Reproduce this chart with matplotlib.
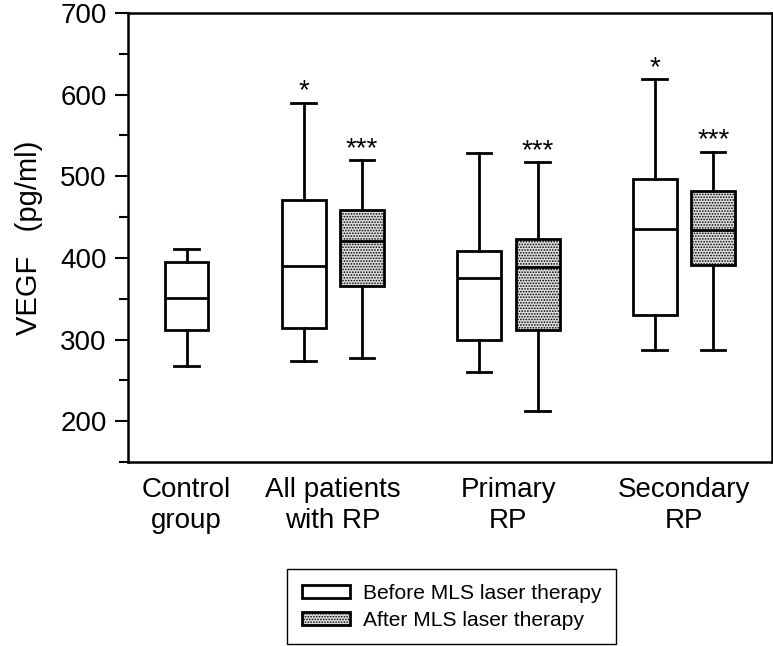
import matplotlib
matplotlib.use("Agg")
import matplotlib.pyplot as plt
from matplotlib.patches import Patch
from matplotlib.ticker import MultipleLocator

plt.rcParams['font.family'] = ['Liberation Sans', 'DejaVu Sans']
plt.rcParams['hatch.linewidth'] = 0.8
plt.rcParams['hatch.color'] = '#000000'

# groups on the x axis
groups = ["Control\ngroup", "All patients\nwith RP", "Primary\nRP", "Secondary\nRP"]

# before therapy (control group included): low whisker, Q1, median, Q3, high whisker
before_lo = [267, 274, 260, 287]
before_q1 = [312, 314, 299, 330]
before_med = [351, 390, 376, 435]
before_q3 = [395, 471, 408, 497]
before_hi = [411, 590, 529, 619]
before_marks = ["", "*", "", "*"]

# after therapy (patient groups only)
after_lo = [277, 213, 287]
after_q1 = [365, 312, 391]
after_med = [421, 389, 434]
after_q3 = [459, 423, 482]
after_hi = [520, 517, 530]
after_marks = ["***", "***", "***"]


def make_stats(lo, q1, med, q3, hi):
    return [dict(whislo=a, q1=b, med=c, q3=d, whishi=e, fliers=[])
            for a, b, c, d, e in zip(lo, q1, med, q3, hi)]


before_pos = [0] + [3 * i - 1 for i in range(1, len(groups))]
after_pos = [3 * i for i in range(1, len(groups))]
tick_pos = [0] + [3 * i - 0.5 for i in range(1, len(groups))]

fig = plt.figure(figsize=(7.73, 6.46), dpi=100)
ax = fig.add_axes([0.1656, 0.2848, 0.8327, 0.6951])

lw = 2.0
dots = '#dedede'
common = dict(widths=0.75, capwidths=0.42, showfliers=False, patch_artist=True,
              whiskerprops=dict(color='black', lw=lw),
              capprops=dict(color='black', lw=lw),
              medianprops=dict(color='black', lw=lw))

ax.bxp(make_stats(before_lo, before_q1, before_med, before_q3, before_hi),
       positions=before_pos,
       boxprops=dict(facecolor='white', edgecolor='black', lw=lw), **common)
ax.bxp(make_stats(after_lo, after_q1, after_med, after_q3, after_hi),
       positions=after_pos,
       boxprops=dict(facecolor=dots, edgecolor='black', lw=lw, hatch='......'),
       **common)

for x, top, m in zip(before_pos, before_hi, before_marks):
    if m:
        ax.annotate(m, (x, top), xytext=(0, 3), textcoords='offset points',
                    ha='center', va='baseline', fontsize=20)
for x, top, m in zip(after_pos, after_hi, after_marks):
    ax.annotate(m, (x, top), xytext=(0, 3), textcoords='offset points',
                ha='center', va='baseline', fontsize=20)

ax.set_xlim(-1, 10)
ax.set_ylim(150, 700)
ax.yaxis.set_major_locator(MultipleLocator(100))
ax.yaxis.set_minor_locator(MultipleLocator(50))
ax.set_yticks([200, 300, 400, 500, 600, 700])
ax.set_xticks(tick_pos)
ax.set_xticklabels(groups, fontsize=20, linespacing=1.25)
ax.tick_params(axis='x', length=0, pad=11)
ax.tick_params(axis='y', which='major', length=9.4, width=1.5, pad=6, labelsize=20)
ax.tick_params(axis='y', which='minor', length=6.5, width=1.5)
for s in ax.spines.values():
    s.set_linewidth(1.8)
ax.set_ylabel("VEGF   (pg/ml)", fontsize=21, labelpad=12)

handles = [Patch(facecolor='white', edgecolor='black', lw=2),
           Patch(facecolor=dots, edgecolor='black', lw=2, hatch='......')]
fig.legend(handles, ["Before MLS laser therapy", "After MLS laser therapy"],
           loc='upper left', bbox_to_anchor=(0.3713, 0.1192), fontsize=15.1,
           frameon=True, fancybox=False, edgecolor='black', framealpha=1,
           borderpad=0.7, labelspacing=0.38, handlelength=2.3, handleheight=0.6,
           handletextpad=0.6, borderaxespad=0)

fig.savefig("out.png", dpi=100)
